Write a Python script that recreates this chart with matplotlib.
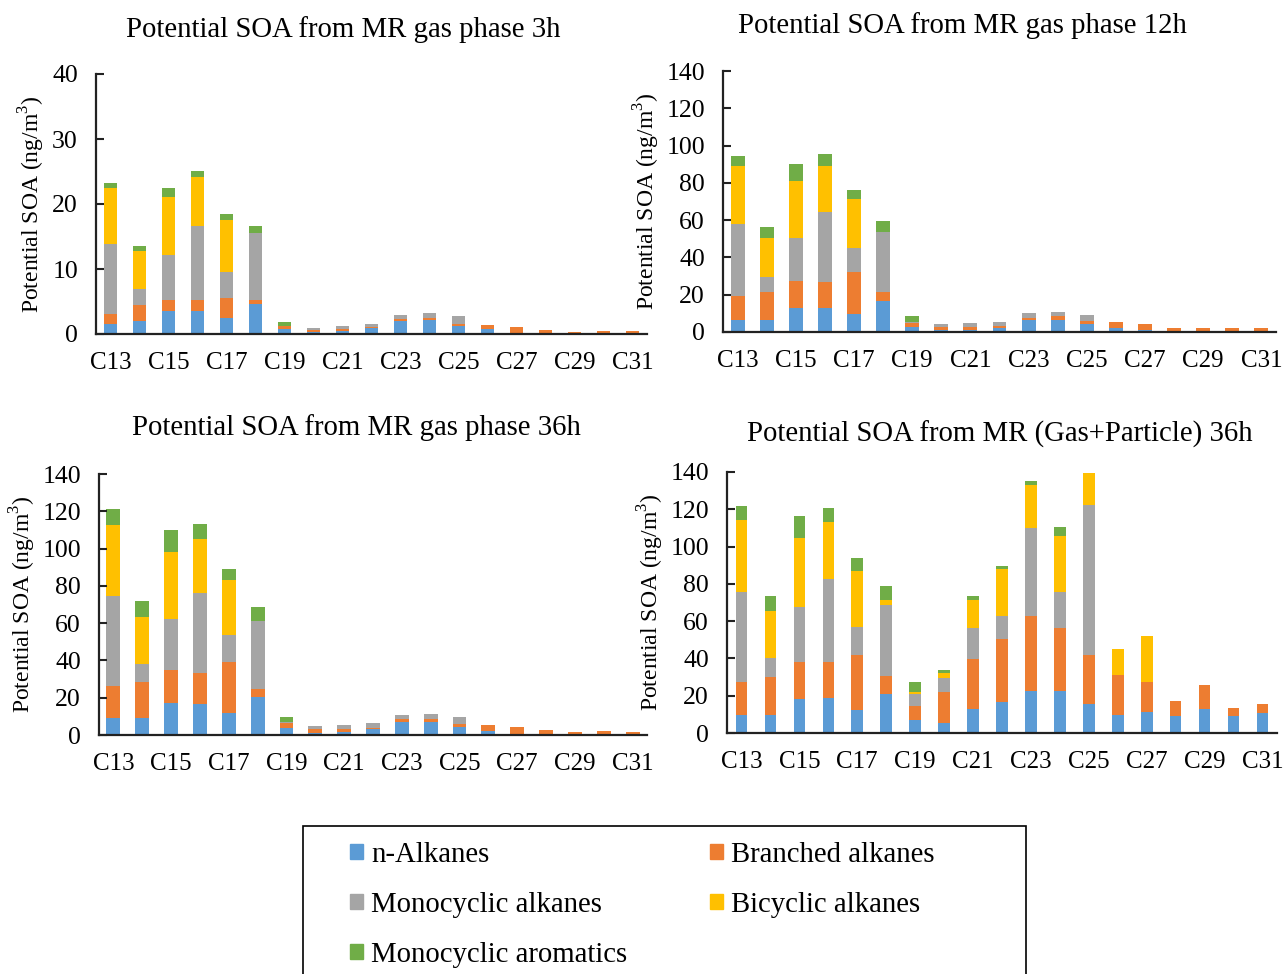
import numpy as np
import matplotlib
matplotlib.use('Agg')
import matplotlib.pyplot as plt
import matplotlib.patches as mpatches

plt.rcParams['font.family'] = ['Liberation Serif', 'DejaVu Serif']
plt.rcParams['mathtext.fontset'] = 'custom'
plt.rcParams['mathtext.rm'] = 'Liberation Serif'

# ── data (ng/m3), C13 .. C31 ─────────
cats = ['C%d' % i for i in range(13, 32)]

# gas phase 3h
g3_nalk   = [1.6, 2.0, 3.5, 3.5, 2.5, 4.6, 0.8, 0.3, 0.5, 0.9, 2.0, 2.15, 1.3, 0.7, 0.2, 0, 0, 0, 0]
g3_branch = [1.5, 2.5, 1.8, 1.7, 3.0, 0.6, 0.4, 0.3, 0.2, 0.2, 0.3, 0.3, 0.3, 0.7, 0.9, 0.55, 0.3, 0.45, 0.45]
g3_mono   = [10.8, 2.4, 6.9, 11.4, 4.0, 10.4, 0.1, 0.3, 0.6, 0.5, 0.6, 0.8, 1.2, 0, 0, 0, 0, 0, 0]
g3_bicyc  = [8.6, 5.8, 8.9, 7.5, 8.1, 0, 0, 0, 0, 0, 0, 0, 0, 0, 0, 0, 0, 0, 0]
g3_arom   = [0.8, 0.9, 1.4, 1.0, 0.9, 1.0, 0.6, 0, 0, 0, 0, 0, 0, 0, 0, 0, 0, 0, 0]

# gas phase 12h
g12_nalk   = [6.4, 6.4, 13.0, 13.0, 9.6, 16.4, 2.7, 1.25, 1.25, 2.3, 6.4, 6.6, 4.5, 2.3, 0.9, 0, 0, 0, 0]
g12_branch = [12.9, 14.8, 14.1, 13.6, 22.5, 4.85, 2.3, 1.45, 1.6, 0.9, 1.3, 1.8, 1.2, 3.1, 3.6, 2.3, 2.0, 2.3, 2.0]
g12_mono   = [38.6, 8.1, 23.4, 37.7, 12.9, 32.35, 0.5, 1.4, 2.1, 2.2, 2.3, 2.5, 3.6, 0, 0, 0, 0, 0, 0]
g12_bicyc  = [31.0, 20.9, 30.75, 24.6, 26.1, 0, 0, 0, 0, 0, 0, 0, 0, 0, 0, 0, 0, 0, 0]
g12_arom   = [5.7, 6.2, 9.0, 6.8, 5.0, 6.0, 2.9, 0, 0, 0, 0, 0, 0, 0, 0, 0, 0, 0, 0]

# gas phase 36h
g36_nalk   = [9.1, 9.1, 17.1, 16.8, 12.0, 20.2, 3.9, 1.25, 1.8, 3.0, 6.8, 6.8, 4.5, 2.1, 0.7, 0, 0, 0, 0]
g36_branch = [17.3, 19.1, 17.9, 16.4, 26.9, 4.4, 2.35, 2.15, 1.6, 0.75, 1.6, 1.95, 1.4, 3.4, 3.6, 2.5, 1.6, 2.1, 1.6]
g36_mono   = [48.2, 9.8, 27.3, 43.2, 14.5, 36.8, 0.55, 1.2, 2.1, 2.5, 2.1, 2.65, 3.6, 0, 0, 0, 0, 0, 0]
g36_bicyc  = [38.1, 25.2, 35.9, 28.6, 29.8, 0, 0, 0, 0, 0, 0, 0, 0, 0, 0, 0, 0, 0, 0]
g36_arom   = [8.4, 8.9, 12.0, 8.4, 5.9, 7.2, 3.0, 0, 0, 0, 0, 0, 0, 0, 0, 0, 0, 0, 0]

# gas + particle 36h
gp_nalk   = [9.5, 9.5, 18.0, 18.9, 12.3, 21.1, 7.1, 5.2, 12.9, 16.4, 22.5, 22.5, 15.5, 9.5, 11.4, 9.3, 12.7, 9.3, 10.9]
gp_branch = [18.0, 20.3, 19.9, 19.3, 29.3, 9.4, 7.2, 16.9, 26.6, 33.8, 40.0, 33.6, 26.1, 21.75, 15.7, 7.7, 13.0, 4.1, 4.6]
gp_mono   = [48.0, 10.4, 29.6, 44.3, 15.4, 38.1, 6.8, 7.5, 16.6, 12.3, 47.7, 19.4, 80.5, 0, 0, 0, 0, 0, 0]
gp_bicyc  = [38.6, 25.2, 37.1, 30.7, 29.8, 2.8, 0.9, 2.7, 15.3, 25.4, 22.7, 30.4, 17.4, 13.95, 24.7, 0, 0, 0, 0]
gp_arom   = [7.7, 8.2, 11.65, 7.7, 6.95, 7.35, 5.3, 1.3, 2.2, 1.7, 2.1, 4.6, 0, 0, 0, 0, 0, 0, 0]

groups = ['n-Alkanes', 'Branched alkanes', 'Monocyclic alkanes',
          'Bicyclic alkanes', 'Monocyclic aromatics']
colors = ['#5B9BD5', '#ED7D31', '#A5A5A5', '#FFC000', '#70AD47']

W, H = 1284, 974
fig = plt.figure(figsize=(W / 100, H / 100), dpi=100)


def px_axes(l, r, t, b):
    return fig.add_axes([l / W, 1 - b / H, (r - l) / W, (b - t) / H])


def draw(ax, series, ymax, step, width):
    x = np.arange(len(cats))
    bottom = np.zeros(len(cats))
    for vals, c in zip(series, colors):
        ax.bar(x, vals, width, bottom=bottom, color=c, linewidth=0)
        bottom += np.array(vals)
    ax.set_xlim(-0.5, len(cats) - 0.5)
    ax.set_ylim(0, ymax)
    ax.set_yticks(np.arange(0, ymax + 1, step))
    ax.set_xticks(x[::2])
    ax.set_xticklabels(cats[::2])
    ax.spines['top'].set_visible(False)
    ax.spines['right'].set_visible(False)
    for s in ['left', 'bottom']:
        ax.spines[s].set_linewidth(1.6)
        ax.spines[s].set_color('#222222')
    ax.tick_params(axis='y', direction='in', length=6, width=1.5,
                   labelsize=18.5, pad=13, color='#222222')
    ax.tick_params(axis='x', length=0, labelsize=18, pad=13)


ax1 = px_axes(96, 647, 74, 334)
draw(ax1, [g3_nalk, g3_branch, g3_mono, g3_bicyc, g3_arom], 40, 10, 0.48)
ax2 = px_axes(723, 1276, 71, 332)
draw(ax2, [g12_nalk, g12_branch, g12_mono, g12_bicyc, g12_arom], 140, 20, 0.48)
ax3 = px_axes(99, 647, 474, 735)
draw(ax3, [g36_nalk, g36_branch, g36_mono, g36_bicyc, g36_arom], 140, 20, 0.48)
ax4 = px_axes(727, 1277, 472, 733)
draw(ax4, [gp_nalk, gp_branch, gp_mono, gp_bicyc, gp_arom], 140, 20, 0.40)

titles = [('Potential SOA from MR gas phase 3h', 343, 30),
          ('Potential SOA from MR gas phase 12h', 962, 26),
          ('Potential SOA from MR gas phase 36h', 356, 428),
          ('Potential SOA from MR (Gas+Particle) 36h', 1000, 434)]
for t, x, y in titles:
    fig.text(x / W, 1 - y / H, t, ha='center', va='center', fontsize=20.7)

ylab = r'Potential SOA (ng/m$^{\mathrm{3}}$)'
for x, y in [(32, 204), (647, 201), (23, 604), (651, 602)]:
    fig.text(x / W, 1 - y / H, ylab, rotation=90, ha='center', va='center',
             fontsize=17)

# legend box (bottom edge runs off the figure)
fig.patches.append(mpatches.Rectangle((303 / W, -0.05), (1026 - 303) / W,
                                      0.05 + 1 - 826 / H, transform=fig.transFigure,
                                      fill=False, edgecolor='black', linewidth=1.2))

handles = [mpatches.Patch(color=c, label=g) for c, g in zip(colors, groups)]
order = [0, 2, 4, 1, 3]
fig.legend([handles[i] for i in order], [groups[i] for i in order],
           loc='upper left', bbox_to_anchor=(350 / W, 1 - 842 / H), ncol=2,
           frameon=False, fontsize=20.7, handlelength=0.45, handleheight=0.45,
           handletextpad=0.28, labelspacing=0.83, columnspacing=2.9,
           borderpad=0, borderaxespad=0)

plt.savefig('out.png', dpi=100)
